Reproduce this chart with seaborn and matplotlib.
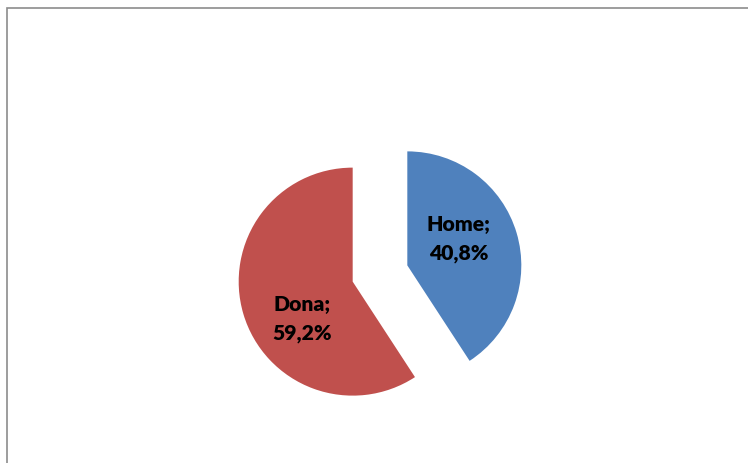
import matplotlib
matplotlib.use("Agg")
import matplotlib.pyplot as plt
from matplotlib.patches import Rectangle
from matplotlib.transforms import offset_copy
import seaborn as sns

# data
categories = ["Home", "Dona"]
values = [40.8, 59.2]
colors = ["#4F81BD", "#C0504D"]

sns.set_theme(style="white")
plt.rcParams["font.family"] = ["Lato", "DejaVu Sans"]

fig = plt.figure(figsize=(7.48, 4.63), dpi=100)
ax = fig.add_axes([0, 0, 1, 1])

# labels "Name;\nxx,x%"
label_text = iter([f"{c};\n{v:.1f}%".replace(".", ",") for c, v in zip(categories, values)])

wedges, texts, autotexts = ax.pie(
    values,
    colors=colors,
    startangle=90,
    counterclock=False,
    explode=[0.25, 0.25],
    autopct=lambda p: next(label_text),
    pctdistance=0.5,
    radius=1.0,
    wedgeprops=dict(linewidth=0),
)
# small nudges (points) so labels sit like excel's best-fit
nudges = [(-2.5, 7), (3, -15)]
for t, (dx, dy) in zip(autotexts, nudges):
    t.set_fontsize(15.2)
    t.set_fontweight("heavy")
    t.set_color("black")
    t.set_linespacing(1.6)
    t.set_transform(offset_copy(t.get_transform(), fig=fig, x=dx, y=dy, units="points"))

# pie centre ~ (380, 273) px, radius ~114 px
r_px = 114.0
cx, cy = 380.0, 463 - 273.5
ax.set_xlim(-cx / r_px, (748 - cx) / r_px)
ax.set_ylim(-cy / r_px, (463 - cy) / r_px)
ax.set_aspect("auto")
ax.axis("off")

# chart area border (partly cropped)
fig.patches.append(Rectangle((6.5 / 748, -0.1), 1.2, 1.1 - 7.5 / 463,
                             transform=fig.transFigure, fill=False,
                             edgecolor="#8c8c8c", linewidth=1.2))

fig.savefig("out.png", dpi=100)
